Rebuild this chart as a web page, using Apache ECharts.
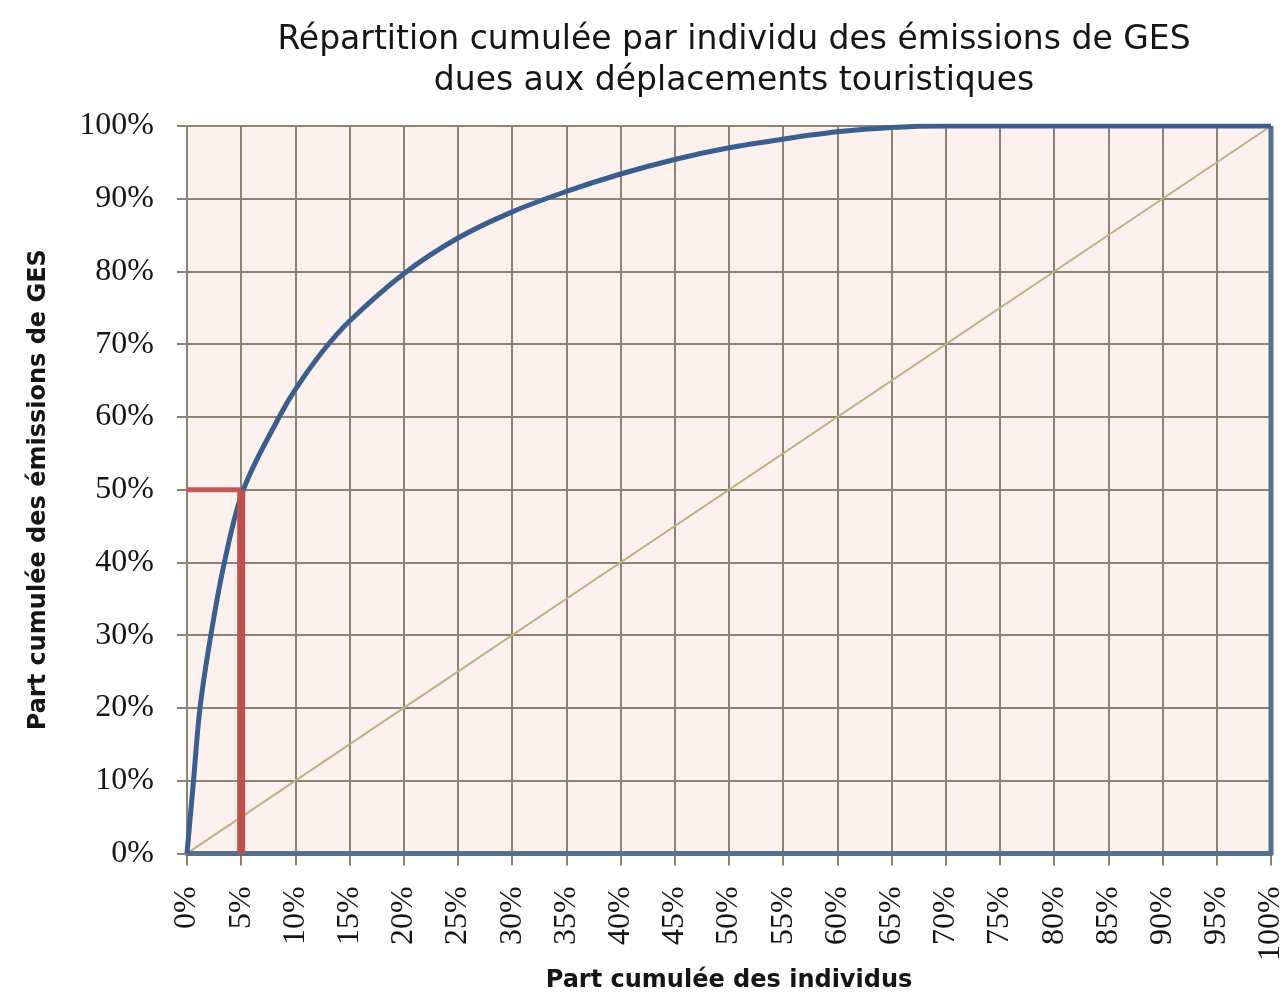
<!DOCTYPE html>
<html><head><meta charset="utf-8">
<script src="https://cdn.jsdelivr.net/npm/echarts@6/dist/echarts.min.js"></script>
<style>html,body{margin:0;padding:0;background:#fff;overflow:hidden}#c{width:1287px;height:998px}</style>
</head><body><div id="c"></div>
<script>
// Cumulative share of individuals (%)
const curveX = [0, 0.6, 1.2, 2.2, 3.45, 5.2, 8.5, 10, 12.5, 15, 20, 25, 30, 35, 40, 45, 50, 55, 60, 65, 70, 100];
// Cumulative share of GHG emissions (%)
const curveY = [0, 10, 20, 30, 40, 50, 60, 63.8, 69.0, 73.2, 79.7, 84.6, 88.2, 91, 93.4, 95.4, 97, 98.2, 99.2, 99.8, 100, 100];
// Closing frame of the curve (right edge and bottom)
const frameX = [100, 100, 0];
const frameY = [100, 0, 0];
// Equality line
const diagX = [0, 100];
const diagY = [0, 100];
// Highlight: 5% of individuals -> 50% of emissions
const markX = [0, 5, 5];
const markY = [50, 50, 0];

const zip = (a, b) => a.map((v, i) => [v, b[i]]);
const chart = echarts.init(document.getElementById('c'));
const gridCol = '#8c8473';
const sans = 'DejaVu Sans';
const serif = 'Liberation Serif';
chart.setOption({
  animation: false,
  backgroundColor: '#ffffff',
  title: {
    text: 'Répartition cumulée par individu des émissions de GES\ndues aux déplacements touristiques',
    left: 729, top: 15, textAlign: 'center',
    textStyle: { fontFamily: sans, fontSize: 33, fontWeight: 'normal', color: '#151515', lineHeight: 41 }
  },
  grid: { left: 187, top: 126, width: 1085, height: 732, show: true, backgroundColor: '#fdf1ef', borderWidth: 0 },
  xAxis: {
    type: 'value', min: 0, max: 100, interval: 5,
    name: 'Part cumulée des individus', nameLocation: 'middle', nameGap: 110,
    nameTextStyle: { fontFamily: sans, fontSize: 24, fontWeight: 'bold', color: '#151515' },
    axisLine: { show: true, lineStyle: { color: '#56708c', width: 5 } },
    axisTick: { show: true, length: 12, lineStyle: { color: gridCol, width: 2 } },
    axisLabel: { rotate: 90, margin: 33, fontFamily: serif, fontSize: 32, color: '#151515',
      formatter: v => v + '%' },
    splitLine: { show: true, lineStyle: { color: gridCol, width: 2 } }
  },
  yAxis: {
    type: 'value', min: 0, max: 100, interval: 10,
    name: 'Part cumulée des émissions de GES', nameLocation: 'middle', nameGap: 136,
    nameTextStyle: { fontFamily: sans, fontSize: 24, fontWeight: 'bold', color: '#151515' },
    axisLine: { show: true, lineStyle: { color: gridCol, width: 2 } },
    axisTick: { show: true, length: 10, lineStyle: { color: gridCol, width: 2 } },
    axisLabel: { margin: 33, fontFamily: serif, fontSize: 32, color: '#151515',
      formatter: v => v + '%' },
    splitLine: { show: true, lineStyle: { color: gridCol, width: 2 } }
  },
  series: [
    { type: 'line', data: zip(diagX, diagY), symbol: 'none', lineStyle: { color: '#c2ad86', width: 2 }, z: 2 },
    { type: 'line', data: zip(frameX, frameY), symbol: 'none', lineStyle: { color: '#56708c', width: 5 }, z: 3 },
    { type: 'line', data: zip(curveX, curveY), symbol: 'none', smooth: 0.35, lineStyle: { color: '#3a5e8e', width: 5 }, z: 4 },
    { type: 'line', data: zip(markX.slice(0,2), markY.slice(0,2)), symbol: 'none', lineStyle: { color: '#c05858', width: 5 }, z: 5 },
    { type: 'line', data: zip(markX.slice(1), markY.slice(1)), symbol: 'none', lineStyle: { color: '#c0504d', width: 8 }, z: 5 }
  ]
});
</script></body></html>
